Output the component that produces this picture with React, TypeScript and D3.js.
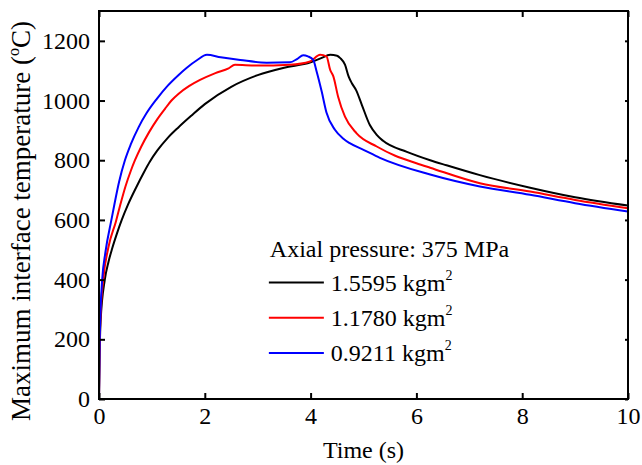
import { useEffect, useRef } from "react";
import * as d3 from "d3";

// time (s), temperature (°C)
const blackSeries: [number, number][] = [
  [0, 0], [0.01, 130], [0.03, 260], [0.11, 400], [0.18, 460], [0.25, 505],
  [0.34, 555], [0.43, 600], [0.55, 652], [0.7, 708], [0.85, 760], [0.96, 795],
  [1.1, 832], [1.3, 875], [1.5, 910], [1.75, 950], [2.0, 988], [2.5, 1046],
  [3.0, 1085], [3.5, 1110], [4.0, 1128], [4.2, 1142], [4.37, 1153],
  [4.5, 1150], [4.56, 1142], [4.65, 1120], [4.72, 1080], [4.78, 1058], [4.86, 1035],
  [4.97, 985], [5.12, 918], [5.25, 885], [5.37, 865], [5.82, 828], [6.26, 800],
  [6.57, 783], [7.2, 750], [8.15, 708], [9, 676], [10, 648],
];
const redSeries: [number, number][] = [
  [0, 0], [0.01, 150], [0.03, 280], [0.08, 400], [0.18, 510], [0.32, 595],
  [0.4, 649], [0.5, 712], [0.6, 764], [0.68, 800], [0.8, 846], [0.95, 895],
  [1.1, 937], [1.25, 973], [1.37, 1000], [1.5, 1022], [1.7, 1048], [1.91, 1069],
  [2.2, 1092], [2.45, 1108], [2.57, 1120], [2.98, 1117], [3.61, 1120], [3.99, 1131],
  [4.18, 1153], [4.3, 1148], [4.37, 1103], [4.43, 1081], [4.52, 1013], [4.65, 946],
  [4.87, 890], [5.25, 846], [5.6, 815], [6.0, 790], [6.26, 775], [7.2, 723],
  [8.15, 695], [9, 667], [10, 639],
];
const blueSeries: [number, number][] = [
  [0, 0], [0.01, 160], [0.03, 300], [0.06, 400], [0.12, 490], [0.24, 605],
  [0.3, 660], [0.38, 728], [0.49, 800], [0.6, 853], [0.75, 911], [0.9, 958],
  [1.09, 1005], [1.3, 1050], [1.5, 1085], [1.66, 1110], [1.85, 1135], [2.04, 1153],
  [2.3, 1145], [2.67, 1136], [3.17, 1127], [3.61, 1128], [3.75, 1140], [3.86, 1152],
  [3.95, 1148], [4.05, 1136], [4.11, 1100], [4.21, 1030], [4.3, 960], [4.46, 902],
  [4.62, 872], [4.74, 857], [5.0, 835], [5.31, 808], [6.26, 752], [7.2, 712],
  [8.15, 684], [9, 656], [10, 628],
];

const seriesNames = ["1.5595 kgm", "1.1780 kgm", "0.9211 kgm"];
const seriesColors = ["#000000", "#ff0000", "#0000ff"];
const xTicks = [0, 2, 4, 6, 8, 10];
const yTicks = [0, 200, 400, 600, 800, 1000, 1200];

export default function App() {
  const ref = useRef<SVGSVGElement>(null);

  useEffect(() => {
    document.body.style.margin = "0";
    const width = 642,
      height = 465,
      margin = { top: 11, right: 14, bottom: 66, left: 99 };
    const iw = width - margin.left - margin.right;
    const ih = height - margin.top - margin.bottom;
    const font = "Liberation Serif";

    const root = d3.select(ref.current);
    root.selectAll("*").remove();
    const svg = root
      .append("g")
      .attr("transform", `translate(${margin.left},${margin.top})`)
      .attr("font-family", font);

    const x = d3.scaleLinear().domain([0, 10]).range([0, iw]);
    const y = d3.scaleLinear().domain([0, 1300]).range([ih, 0]);

    // curves
    const line = d3
      .line<[number, number]>()
      .x((d) => x(d[0]))
      .y((d) => y(d[1]))
      .curve(d3.curveMonotoneX);
    [blackSeries, redSeries, blueSeries].forEach((s, i) => {
      svg
        .append("path")
        .datum(s)
        .attr("d", line)
        .attr("fill", "none")
        .attr("stroke", seriesColors[i])
        .attr("stroke-width", 2);
    });

    // axes (inward ticks)
    const styleAxis = (g: any) => {
      g.attr("font-family", font).attr("font-size", 24);
      g.select(".domain").remove();
      g.selectAll("line").attr("stroke", "#000").attr("stroke-width", 2);
      g.selectAll("text").attr("fill", "#000");
    };
    svg
      .append("g")
      .attr("transform", `translate(0,${ih})`)
      .call(d3.axisBottom(x).tickValues(xTicks).tickSizeInner(-6).tickSizeOuter(0).tickPadding(8))
      .call(styleAxis);
    svg
      .append("g")
      .call(d3.axisTop(x).tickValues(xTicks).tickSizeInner(-6).tickSizeOuter(0).tickFormat(() => ""))
      .call(styleAxis);
    svg
      .append("g")
      .call(
        d3
          .axisLeft(y)
          .tickValues(yTicks)
          .tickFormat(d3.format("d"))
          .tickSizeInner(-6)
          .tickSizeOuter(0)
          .tickPadding(9)
      )
      .call(styleAxis);
    svg
      .append("g")
      .attr("transform", `translate(${iw},0)`)
      .call(d3.axisRight(y).tickValues(yTicks).tickSizeInner(-3).tickSizeOuter(0).tickFormat(() => ""))
      .call(styleAxis);

    // frame
    svg
      .append("rect")
      .attr("width", iw)
      .attr("height", ih)
      .attr("fill", "none")
      .attr("stroke", "#000")
      .attr("stroke-width", 2);

    // axis titles
    svg
      .append("text")
      .attr("x", iw / 2)
      .attr("y", ih + 59)
      .attr("text-anchor", "middle")
      .attr("font-size", 24)
      .text("Time (s)");

    const yl = svg
      .append("text")
      .attr("transform", `translate(${-margin.left + 30},${ih / 2 + 16}) rotate(-90)`)
      .attr("text-anchor", "middle")
      .attr("font-size", 27);
    yl.append("tspan").text("Maximum interface temperature (");
    yl.append("tspan").attr("dy", -11).attr("font-size", 16).text("o");
    yl.append("tspan").attr("dy", 11).text("C)");

    // legend
    const lg = svg.append("g").attr("transform", `translate(${x(3.23)},0)`);
    lg.append("text")
      .attr("x", 0)
      .attr("y", y(475))
      .attr("font-size", 24)
      .text("Axial pressure: 375 MPa");
    seriesNames.forEach((name, i) => {
      const ly = y(390 - i * 118);
      lg.append("line")
        .attr("x1", -1)
        .attr("x2", 54)
        .attr("y1", ly)
        .attr("y2", ly)
        .attr("stroke", seriesColors[i])
        .attr("stroke-width", 2);
      const t = lg
        .append("text")
        .attr("x", 61)
        .attr("y", ly + 8)
        .attr("font-size", 24);
      t.append("tspan").text(name);
      t.append("tspan").attr("dy", -11).attr("font-size", 14).text("2");
    });
  }, []);

  return <svg ref={ref} width={642} height={465} style={{ display: "block", background: "#fff" }} />;
}
